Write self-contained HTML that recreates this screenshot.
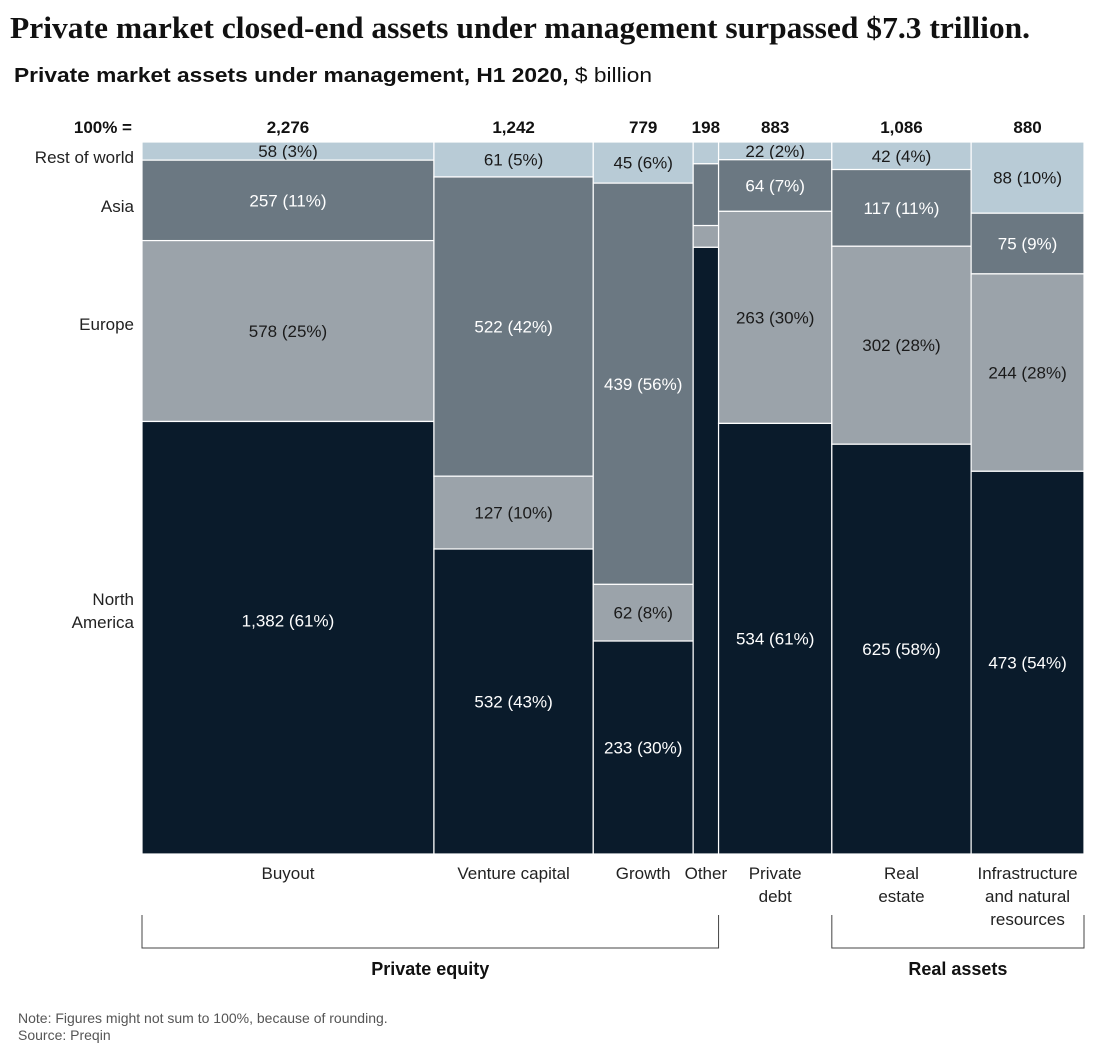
<!DOCTYPE html>
<html><head><meta charset="utf-8"><style>
body{margin:0;background:#fff;width:1100px;height:1053px;overflow:hidden;font-family:"Liberation Sans",sans-serif;}
</style></head><body>
<svg id="c" width="1100" height="1053" xmlns="http://www.w3.org/2000/svg">
<text x="10" y="38" font-family="Liberation Serif,serif" font-weight="bold" font-size="31" fill="#111" textLength="1020" lengthAdjust="spacingAndGlyphs">Private market closed-end assets under management surpassed $7.3 trillion.</text>
<text x="14" y="82" font-size="20" fill="#111" textLength="638" lengthAdjust="spacingAndGlyphs"><tspan font-weight="bold">Private market assets under management, H1 2020,</tspan> $ billion</text>
<text x="18" y="1023" font-size="14" fill="#555">Note: Figures might not sum to 100%, because of rounding.</text>
<text x="18" y="1040" font-size="14" fill="#555">Source: Preqin</text>
<g id="g"></g>
</svg>
<script>
const categories=["Buyout","Venture capital","Growth","Other","Private debt","Real estate","Infrastructure and natural resources"];
const catLines=[["Buyout"],["Venture capital"],["Growth"],["Other"],["Private","debt"],["Real","estate"],["Infrastructure","and natural","resources"]];
const totals=[2276,1242,779,198,883,1086,880];
const totalLabels=["2,276","1,242","779","198","883","1,086","880"];
const rowOfWorld=[58,61,45,6,22,42,88];
const asia=[257,522,439,17,64,117,75];
const europe=[578,127,62,6,263,302,244];
const northAmerica=[1382,532,233,167,534,625,473];
const pctRow=[3,5,6,null,2,4,10];
const pctAsia=[11,42,56,null,7,11,9];
const pctEurope=[25,10,8,null,30,28,28];
const pctNA=[61,43,30,null,61,58,54];
const series=[
 {name:"rest-of-world",v:rowOfWorld,p:pctRow,fill:"#b8cbd6",tc:"#1a1a1a"},
 {name:"asia",v:asia,p:pctAsia,fill:"#6b7882",tc:"#fff"},
 {name:"europe",v:europe,p:pctEurope,fill:"#9ba3aa",tc:"#1a1a1a"},
 {name:"north-america",v:northAmerica,p:pctNA,fill:"#0a1b2b",tc:"#fff"}];
const X0=142,X1=1084,Y0=142,Y1=854;
const g=document.getElementById('g');
const NS="http://www.w3.org/2000/svg";
function mk(t,a,txt){const e=document.createElementNS(NS,t);for(const k in a)e.setAttribute(k,a[k]);if(txt!=null)e.textContent=txt;g.appendChild(e);return e;}
const grand=totals.reduce((a,b)=>a+b,0);
const xs=v=>X0+(X1-X0)*v/grand;
const fmt=n=>n.toLocaleString('en-US');
let cum=0;const colX=[];
totals.forEach((t,i)=>{
 const x0=xs(cum),x1=xs(cum+t);cum+=t;colX.push([x0,x1]);
 const sum=series.reduce((s,se)=>s+se.v[i],0);
 let yc=Y0;
 series.forEach(se=>{
  const h=(Y1-Y0)*se.v[i]/sum;
  const r=mk('rect',{x:x0,y:yc,width:x1-x0,height:h,fill:se.fill,stroke:'#fff','stroke-width':1.2});
  
  
  if(se.p[i]!=null){
   let cy=yc+h/2+6;
   if(i===0&&se.name==='north-america')cy-=17;
   const tx=mk('text',{x:(x0+x1)/2,y:cy,'text-anchor':'middle','font-size':17,fill:se.tc},fmt(se.v[i])+' ('+se.p[i]+'%)');
   
   
  }
  yc+=h;
 });
 const tl=mk('text',{x:(x0+x1)/2,y:133,'text-anchor':'middle','font-size':17,'font-weight':'bold',fill:'#111'},totalLabels[i]);
 
 
 catLines[i].forEach((l,k)=>{
  const ct=mk('text',{x:(x0+x1)/2,y:879+k*23,'text-anchor':'middle','font-size':17,fill:'#222'},l);
  
  
 });
});
const h0=mk('text',{x:132,y:133,'text-anchor':'end','font-size':17,'font-weight':'bold',fill:'#111'},'100% =');


[["Rest of world",163],["Asia",212],["Europe",330],["North",605],["America",628]].forEach(a=>{
 const t=mk('text',{x:134,y:a[1],'text-anchor':'end','font-size':17,fill:'#222'},a[0]);
 
 
});
function bracket(a,b,label){
 const p=mk('path',{d:`M${a},915V948H${b}V915`,fill:'none',stroke:'#444','stroke-width':1});
 
 
 const t=mk('text',{x:(a+b)/2,y:975,'text-anchor':'middle','font-size':18,'font-weight':'bold',fill:'#111'},label);
 
 
}
bracket(colX[0][0],colX[3][1],'Private equity');
bracket(colX[5][0],colX[6][1],'Real assets');
</script>
</body></html>
